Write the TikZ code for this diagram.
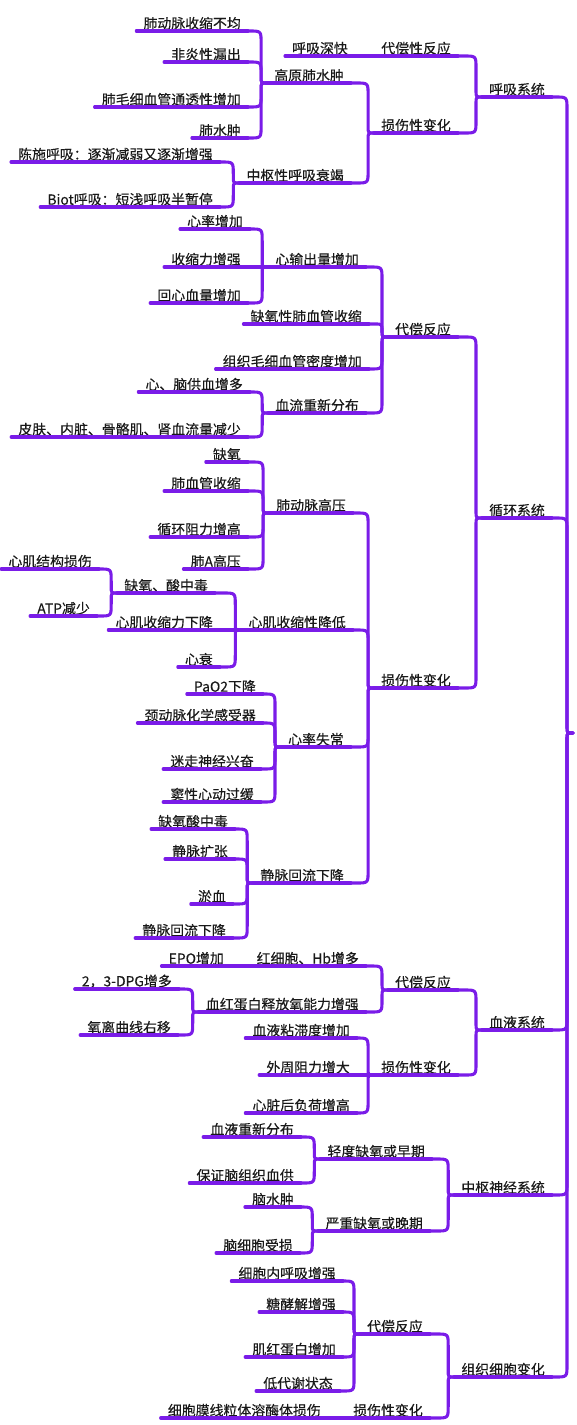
\documentclass[tikz,border=0pt]{standalone}
\usepackage{fontspec}
\setmainfont{Noto Sans CJK SC}[FakeBold=0.35]
\usetikzlibrary{calc}
\definecolor{mp}{RGB}{122,28,232}
\definecolor{tx}{RGB}{25,25,25}
\newcommand\fs{\fontsize{13.9pt}{16pt}\selectfont}
\tikzset{
  t/.style={anchor=south east, inner xsep=7pt, inner ysep=1pt, font=\fs, text=tx},
  ul/.style={draw=mp, line width=3.1pt, line cap=round, line join=round}
}
\newcommand\lnk[3][12pt]{%
  \coordinate (lkA) at ($(#2.south east -| #3)+(-6,0)$);
  \coordinate (lkB) at ($(#3)+(-6,0)$);
  \draw[ul] (#2.south east) -- ($(lkA)!#1!(#2.south east)$) .. controls (lkA) .. ($(lkA)!#1!(lkB)$) -- ($(lkB)!6pt!(lkA)$) .. controls (lkB) .. (#3);
}
\newcommand\slnk[2]{\draw[ul] (#1.south east) -- (#2.south west);}
\begin{document}
\begin{tikzpicture}[x=1pt,y=-1pt]
\useasboundingbox (0,0) rectangle (577,1425);
\coordinate (root) at (573,733);
% respiratory
\node[t] (n1) at (248,31) {肺动脉收缩不均};
\node[t] (n2) at (248,62) {非炎性漏出};
\node[t] (n3) at (248,107) {肺毛细血管通透性增加};
\node[t] (n4) at (248,138) {肺水肿};
\node[t] (gy) at (351,83) {高原肺水肿};
\node[t] (hs) at (355,56) {呼吸深快};
\node[t] (dc1) at (458,56) {代偿性反应};
\node[t] (ss1) at (458,133) {损伤性变化};
\node[t] (zs) at (351,183) {中枢性呼吸衰竭};
\node[t] (cs) at (220,162) {陈施呼吸：逐渐减弱又逐渐增强};
\node[t] (bt) at (220,207) {Biot呼吸：短浅呼吸半暂停};
\node[t] (hx) at (552,97) {呼吸系统};
% circulatory
\node[t] (c1) at (250,229) {心率增加};
\node[t] (c2) at (248,267) {收缩力增强};
\node[t] (c3) at (248,303) {回心血量增加};
\node[t] (xsc) at (366,267) {心输出量增加};
\node[t] (qy) at (369,324) {缺氧性肺血管收缩};
\node[t] (zz) at (369,369) {组织毛细血管密度增加};
\node[t] (c4) at (250,392) {心、脑供血增多};
\node[t] (c5) at (248,437) {皮肤、内脏、骨骼肌、肾血流量减少};
\node[t] (xl2) at (366,413) {血流重新分布};
\node[t] (dc2) at (458,337) {代偿反应};
\node[t] (xh) at (552,518) {循环系统};
\node[t] (p1) at (248,462) {缺氧};
\node[t] (p2) at (248,491) {肺血管收缩};
\node[t] (p3) at (248,537) {循环阻力增高};
\node[t] (p4) at (248,569) {肺A高压};
\node[t] (fdm) at (353,513) {肺动脉高压};
\node[t] (m1) at (99,569) {心肌结构损伤};
\node[t] (m2) at (97,616) {ATP减少};
\node[t] (qs) at (215,593) {缺氧、酸中毒};
\node[t] (m3) at (220,630) {心肌收缩力下降};
\node[t] (m4) at (220,667) {心衰};
\node[t] (xjsx) at (353,630) {心肌收缩性降低};
\node[t] (r1) at (263,694) {PaO2下降};
\node[t] (r2) at (263,723) {颈动脉化学感受器};
\node[t] (r3) at (261,769) {迷走神经兴奋};
\node[t] (r4) at (261,802) {窦性心动过缓};
\node[t] (xlsc) at (351,747) {心率失常};
\node[t] (v1) at (235,829) {缺氧酸中毒};
\node[t] (v2) at (235,859) {静脉扩张};
\node[t] (v3) at (233,904) {淤血};
\node[t] (v4) at (233,938) {静脉回流下降};
\node[t] (jm) at (351,883) {静脉回流下降};
\node[t] (ss2) at (458,688) {损伤性变化};
% blood
\node[t] (b1) at (231,966) {EPO增加};
\node[t] (hb) at (366,966) {红细胞、Hb增多};
\node[t] (b2) at (179,989) {2，3-DPG增多};
\node[t] (b3) at (178,1035) {氧离曲线右移};
\node[t] (xhd) at (366,1012) {血红蛋白释放氧能力增强};
\node[t] (dc3) at (458,990) {代偿反应};
\node[t] (xy) at (552,1030) {血液系统};
\node[t] (b4) at (357,1038) {血液粘滞度增加};
\node[t] (b5) at (357,1075) {外周阻力增大};
\node[t] (b6) at (357,1113) {心脏后负荷增高};
\node[t] (ss3) at (458,1075) {损伤性变化};
% CNS
\node[t] (n5) at (301,1137) {血液重新分布};
\node[t] (n6) at (301,1183) {保证脑组织血供};
\node[t] (qd) at (432,1159) {轻度缺氧或早期};
\node[t] (n7) at (301,1207) {脑水肿};
\node[t] (n8) at (300,1253) {脑细胞受损};
\node[t] (yz) at (430,1231) {严重缺氧或晚期};
\node[t] (zsj) at (552,1195) {中枢神经系统};
% tissue
\node[t] (t1) at (343,1281) {细胞内呼吸增强};
\node[t] (t2) at (343,1312) {糖酵解增强};
\node[t] (t3) at (343,1357) {肌红蛋白增加};
\node[t] (t4) at (340,1391) {低代谢状态};
\node[t] (dc4) at (430,1334) {代偿反应};
\node[t] (t5) at (328,1418) {细胞膜线粒体溶酶体损伤};
\node[t] (ss4) at (430,1418) {损伤性变化};
\node[t] (zz2) at (552,1377) {组织细胞变化};
% underlines
\foreach \n in {n1,n2,n3,n4,gy,hs,dc1,ss1,zs,cs,bt,hx,c1,c2,c3,xsc,qy,zz,c4,c5,xl2,dc2,xh,p1,p2,p3,p4,fdm,m1,m2,qs,m3,m4,xjsx,r1,r2,r3,r4,xlsc,v1,v2,v3,v4,jm,ss2,b1,hb,b2,b3,xhd,dc3,xy,b4,b5,b6,ss3,n5,n6,qd,n7,n8,yz,zsj,t1,t2,t3,t4,dc4,t5,ss4,zz2}
  \draw[ul] (\n.south west) -- (\n.south east);
% links respiratory
\lnk{n1}{gy.south west}\lnk{n2}{gy.south west}\lnk{n3}{gy.south west}\lnk{n4}{gy.south west}
\slnk{hs}{dc1}
\lnk{gy}{ss1.south west}\lnk{zs}{ss1.south west}
\lnk{cs}{zs.south west}\lnk{bt}{zs.south west}
\lnk{dc1}{hx.south west}\lnk{ss1}{hx.south west}
\lnk{hx}{root}
% links circulatory
\lnk{c1}{xsc.south west}\slnk{c2}{xsc}\lnk{c3}{xsc.south west}
\lnk{c4}{xl2.south west}\lnk{c5}{xl2.south west}
\lnk{xsc}{dc2.south west}\lnk[7pt]{qy}{dc2.south west}\lnk{zz}{dc2.south west}\lnk{xl2}{dc2.south west}
\lnk{p1}{fdm.south west}\lnk{p2}{fdm.south west}\lnk{p3}{fdm.south west}\lnk{p4}{fdm.south west}
\lnk{m1}{qs.south west}\lnk{m2}{qs.south west}
\lnk{qs}{xjsx.south west}\slnk{m3}{xjsx}\lnk{m4}{xjsx.south west}
\lnk{r1}{xlsc.south west}\lnk{r2}{xlsc.south west}\lnk{r3}{xlsc.south west}\lnk{r4}{xlsc.south west}
\lnk{v1}{jm.south west}\lnk{v2}{jm.south west}\lnk{v3}{jm.south west}\lnk{v4}{jm.south west}
\lnk{fdm}{ss2.south west}\lnk{xjsx}{ss2.south west}\lnk{xlsc}{ss2.south west}\lnk{jm}{ss2.south west}
\lnk{dc2}{xh.south west}\lnk{ss2}{xh.south west}
\lnk{xh}{root}
% links blood
\slnk{b1}{hb}
\lnk{b2}{xhd.south west}\lnk{b3}{xhd.south west}
\lnk{hb}{dc3.south west}\lnk{xhd}{dc3.south west}
\lnk{b4}{ss3.south west}\slnk{b5}{ss3}\lnk{b6}{ss3.south west}
\lnk{dc3}{xy.south west}\lnk{ss3}{xy.south west}
\lnk{xy}{root}
% links CNS
\lnk{n5}{qd.south west}\lnk{n6}{qd.south west}
\lnk{n7}{yz.south west}\lnk{n8}{yz.south west}
\lnk{qd}{zsj.south west}\lnk{yz}{zsj.south west}
\lnk{zsj}{root}
% links tissue
\lnk{t1}{dc4.south west}\lnk{t2}{dc4.south west}\lnk{t3}{dc4.south west}\lnk{t4}{dc4.south west}
\slnk{t5}{ss4}
\lnk{dc4}{zz2.south west}\lnk{ss4}{zz2.south west}
\lnk{zz2}{root}
\end{tikzpicture}
\end{document}
